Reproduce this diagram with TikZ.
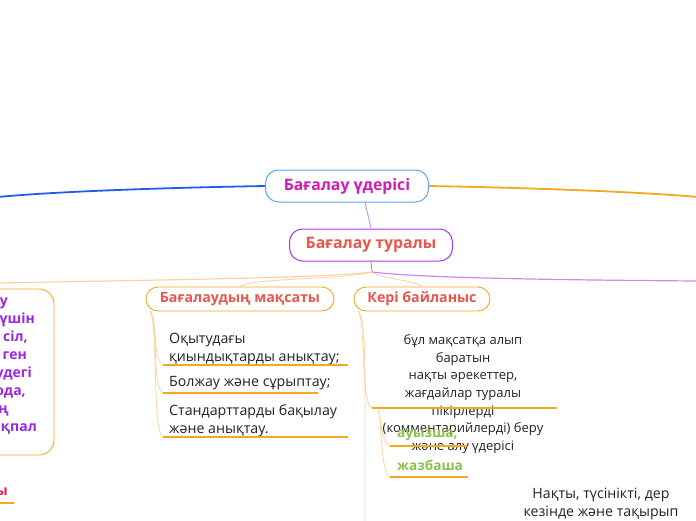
\documentclass[tikz,border=0pt]{standalone}
\usepackage{fontspec}
\setmainfont{Open Sans}
\definecolor{rootbd}{HTML}{5AA9E6}
\definecolor{roottx}{HTML}{D21DB4}
\definecolor{aboutbd}{HTML}{A53BF2}
\definecolor{redtx}{HTML}{E8574A}
\definecolor{orng}{HTML}{F5A623}
\definecolor{lorng}{HTML}{FAD3A0}
\definecolor{blu}{HTML}{1E5EEA}
\definecolor{viol}{HTML}{9B27E0}
\definecolor{lviol}{HTML}{C98AF5}
\definecolor{grn}{HTML}{8BC34A}
\definecolor{crim}{HTML}{E6195A}
\definecolor{txt}{HTML}{222222}
\begin{document}
\begin{tikzpicture}[x=1pt,y=-1pt,
  bigbox/.style={draw, line width=1pt, rounded corners=13pt, fill=white, inner sep=0pt,
    minimum height=32pt, font=\fontsize{15.8}{18}\selectfont\bfseries},
  midbox/.style={draw=orng, line width=0.9pt, rounded corners=12pt, fill=white, inner sep=0pt,
    minimum height=24pt, text=redtx, font=\fontsize{14.2}{16}\selectfont\bfseries},
  bodytx/.style={inner sep=0pt, text=txt, font=\fontsize{14.2}{18}\selectfont},
  underln/.style={draw=orng, line width=1.1pt},
  branch/.style={draw=lorng, line width=0.8pt},
  greentx/.style={inner sep=0pt, text=grn, font=\fontsize{13.6}{16}\selectfont\bfseries},
  violtx/.style={inner sep=0pt, anchor=base east, text=viol, font=\fontsize{14}{18}\selectfont\bfseries}
]
\useasboundingbox (0,0) rectangle (696,520);

% main lines
\coordinate (leftend) at (-2,197);
\coordinate (rightend) at (698,197);
\node[bigbox, draw=rootbd, text=roottx, minimum width=163pt] (root) at (347,186) {Бағалау үдерісі};
\node[bigbox, draw=aboutbd, text=redtx, minimum width=163pt] (about) at (371,245) {Бағалау туралы};

\draw[blu, line width=1.8pt] (root.west) .. controls (150,188) and (50,192) .. (leftend);
\draw[orng, line width=1.8pt] (root.east) .. controls (540,188) and (640,192) .. (rightend);
\draw[lviol, line width=0.9pt] (365,202) -- (about.north);

% branches from about
\coordinate (hub) at (372,272);
\coordinate (leftbr) at (-2,283);
\coordinate (rightbr) at (698,281);
\node[midbox, minimum width=188pt] (goal) at (240,299) {Бағалаудың мақсаты};
\node[midbox, minimum width=136pt] (fb) at (422,299) {Кері байланыс};

\draw[orng!80!red, line width=0.9pt] (about.south) -- (hub);
\draw[lorng, line width=1.2pt] (hub) .. controls (330,278) and (150,280) .. (leftbr);
\draw[branch] (hub) .. controls (340,280) and (250,278) .. (goal.north);
\draw[branch] (hub) .. controls (385,280) and (415,280) .. (fb.north);
\draw[lviol, line width=1.2pt] (hub) .. controls (420,278) and (560,280) .. (rightbr);

% left (cut) box
\node[draw=orng, line width=0.9pt, rounded corners=15pt, minimum width=160pt, minimum height=166pt, inner sep=0pt] (lbox) at (-26,372) {};
\node[violtx] (lt1) at (8,305) {у};
\node[violtx] (lt2) at (35,323) {үшін};
\node[violtx] (lt3) at (28,341) {сіл,};
\node[violtx] (lt4) at (27,359) {ген};
\node[violtx] (lt5) at (32,377) {удегі};
\node[violtx] (lt6) at (26,395) {ода,};
\node[violtx] (lt7) at (9,413) {ң};
\node[violtx] (lt8) at (37,431) {ықпал};

% bottom-left cut label
\node[inner sep=0pt, anchor=east, text=crim, font=\fontsize{14}{16}\selectfont\bfseries] (bl) at (8,492) {ы};
\coordinate (blu1) at (-2,503);
\coordinate (blu2) at (14,503);
\draw[underln] (blu1) -- (blu2);

% goal children
\coordinate (gstart) at (150,311);
\node[bodytx, anchor=west, align=left] (g1) at (169,349) {Оқытудағы\\қиындықтарды анықтау;};
\node[bodytx, anchor=west] (g2) at (169,383) {Болжау және сұрыптау;};
\node[bodytx, anchor=west, align=left] (g3) at (169,421) {Стандарттарды бақылау\\және анықтау.};
\coordinate (g1a) at (163,365); \coordinate (g1b) at (348,365);
\coordinate (g2a) at (163,393); \coordinate (g2b) at (318,393);
\coordinate (g3a) at (163,437); \coordinate (g3b) at (348,437);
\draw[branch] (gstart) .. controls (158,320) and (152,360) .. (g1a);
\draw[branch] (gstart) .. controls (158,320) and (152,388) .. (g2a);
\draw[branch] (gstart) .. controls (158,320) and (152,432) .. (g3a);
\draw[underln] (g1a) -- (g1b);
\draw[underln] (g2a) -- (g2b);
\draw[underln] (g3a) -- (g3b);

% feedback children
\coordinate (fstart) at (358,311);
\node[inner sep=0pt, text=txt, align=center, font=\fontsize{13}{17.7}\selectfont] (f1) at (463,394)
  {бұл мақсатқа алып\\баратын\\нақты әрекеттер,\\жағдайлар туралы\\пікірлерді\\(комментарийлерді) беру\\және алу үдерісі};
\coordinate (f1a) at (372,408); \coordinate (f1b) at (557,408);
\draw[branch] (fstart) .. controls (366,320) and (360,402) .. (f1a);
\draw[underln] (f1a) -- (f1b);

\coordinate (fsub) at (378,410);
\node[greentx, anchor=west] (oral) at (397,435) {ауызша,};
\node[greentx, anchor=west] (writ) at (397,465) {жазбаша};
\coordinate (o1) at (390,446); \coordinate (o2) at (467,446);
\coordinate (w1) at (390,477); \coordinate (w2) at (468,477);
\draw[branch] (fsub) .. controls (382,418) and (380,442) .. (o1);
\draw[branch] (fsub) .. controls (382,418) and (380,472) .. (w1);
\draw[underln] (o1) -- (o2);
\draw[underln] (w1) -- (w2);

\coordinate (fdown) at (365,530);
\draw[branch] (fstart) .. controls (366,320) and (365,340) .. (fdown);
\node[bodytx, anchor=north, align=center] (f2) at (601,488) {Нақты, түсінікті, дер\\кезінде және тақырып};

\end{tikzpicture}
\end{document}
